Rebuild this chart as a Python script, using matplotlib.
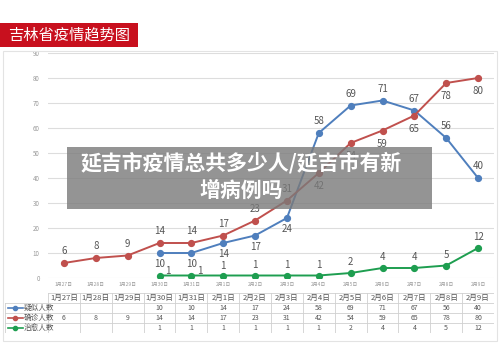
import numpy as np
import matplotlib
matplotlib.use("Agg")
import matplotlib.pyplot as plt
from matplotlib.patches import Rectangle

plt.rcParams['font.family'] = ['Noto Sans CJK SC', 'DejaVu Sans']

dates = ['1月27日', '1月28日', '1月29日', '1月30日', '1月31日', '2月1日', '2月2日',
         '2月3日', '2月4日', '2月5日', '2月6日', '2月7日', '2月8日', '2月9日']
suspected = [None, None, None, 10, 10, 14, 17, 24, 58, 69, 71, 67, 56, 40]
confirmed = [6, 8, 9, 14, 14, 17, 23, 31, 42, 54, 59, 65, 78, 80]
cured = [None, None, None, 1, 1, 1, 1, 1, 1, 2, 4, 4, 5, 12]
names = ['疑似人数', '确诊人数', '治愈人数']
colors = ['#4f7fbd', '#c0504d', '#1e9e50']

W, H = 500, 358
fig = plt.figure(figsize=(5, 3.58), dpi=100)


def fx(px):
    return px / W


def fy(py):
    return 1 - py / H


# outer frame of the chart
fig.add_artist(Rectangle((fx(3), fy(341)), fx(494), (338 - 48) / H,
                         transform=fig.transFigure, fill=False,
                         edgecolor='#e3e3e3', lw=0.8))

# main plot area
ax = fig.add_axes([fx(48), fy(278), fx(446), 225 / H])
ax.set_xlim(-0.5, 13.5)
ax.set_ylim(0, 90)
for s in ax.spines.values():
    s.set_visible(False)
ax.set_yticks(range(0, 91, 10))
ax.tick_params(length=0, labelsize=4.5, labelcolor='#999999', pad=6)
ax.set_xticks([])
ax.grid(axis='y', color='#dddddd', lw=0.8)
ax.set_axisbelow(True)

series = [suspected, confirmed, cured]
# label offsets in points: >0 above, <0 below, 'r' = upper right
placements = [
    [0, 0, 0, -4.5, -4.5, -4.5, -4.5, -4.5, 5, 5, 5, 5, 5, 5],
    [5, 5, 5, 5, 5, 5, 5, 5, -6, -6, -6, -6, -6, -6],
    [0, 0, 0, 'r', 'r', 3, 4, 4, 4, 4, 4, 4, 4, 4],
]
for vals, col, pl in zip(series, colors, placements):
    xs = [i for i, v in enumerate(vals) if v is not None]
    ys = [vals[i] for i in xs]
    ax.plot(xs, ys, color=col, lw=1.4, marker='o', ms=4.2, zorder=3)
    for i, v in zip(xs, ys):
        if pl[i] == 'r':
            ax.annotate(str(v), (i, v), xytext=(4, 0), textcoords='offset points',
                        ha='left', va='bottom', fontsize=7, color='#555555',
                        zorder=4)
            continue
        off = pl[i]
        ax.annotate(str(v), (i, v), xytext=(0, off), textcoords='offset points',
                    ha='center', va='bottom' if off > 0 else 'top',
                    fontsize=7, color='#555555', zorder=4)

# small category labels under the axis
for i, d in enumerate(dates):
    ax.text(i, -2.6, d, ha='center', va='center', fontsize=3.5,
            color='#999999', clip_on=False)

# data table
tab = fig.add_axes([fx(5), fy(333), fx(489), 40 / H])
left = -0.5 - 43 / 31.857
tab.set_xlim(left, 13.5)
tab.set_ylim(0, 4)
tab.axis('off')
lc = '#d0d0d0'
for k in range(15):
    tab.plot([k - 0.5, k - 0.5], [0, 4], color=lc, lw=0.6)
tab.plot([left, left], [0, 3], color=lc, lw=0.6)
tab.plot([-0.5, 13.5], [4, 4], color=lc, lw=0.6)
for r in range(4):
    tab.plot([left, 13.5], [r, r], color=lc, lw=0.6)
for i, d in enumerate(dates):
    tab.text(i, 3.5, d, ha='center', va='center', fontsize=5.5, color='#555555')
for r, (vals, name, col) in enumerate(zip(series, names, colors)):
    yc = 2.5 - r
    tab.plot([left + 0.08, left + 0.55], [yc, yc], color=col, lw=1.2)
    tab.plot([left + 0.315], [yc], marker='o', color=col, ms=3)
    tab.text(left + 0.6, yc, name, ha='left', va='center', fontsize=5.5,
             color='#555555')
    for i, v in enumerate(vals):
        if v is not None:
            tab.text(i, yc, str(v), ha='center', va='center', fontsize=5,
                     color='#555555')

# title banner
fig.add_artist(Rectangle((0, fy(47)), fx(138), 24 / H, transform=fig.transFigure,
                         facecolor='#c8101e', edgecolor='none'))
fig.text(fx(69), fy(35), '吉林省疫情趋势图', ha='center', va='center',
         fontsize=11, color='white')

# gray overlay caption
fig.add_artist(Rectangle((fx(67), fy(209)), fx(365), 62 / H,
                         transform=fig.transFigure, facecolor='#7a7a7a',
                         edgecolor='none', alpha=0.8, zorder=10))
fig.text(fx(241), fy(163), '延吉市疫情总共多少人/延吉市有新', ha='center',
         va='center', fontsize=15, color='white', fontweight='bold', zorder=11)
fig.text(fx(241), fy(190), '增病例吗', ha='center', va='center', fontsize=15,
         color='white', fontweight='bold', zorder=11)

fig.savefig('out.png', dpi=100)
